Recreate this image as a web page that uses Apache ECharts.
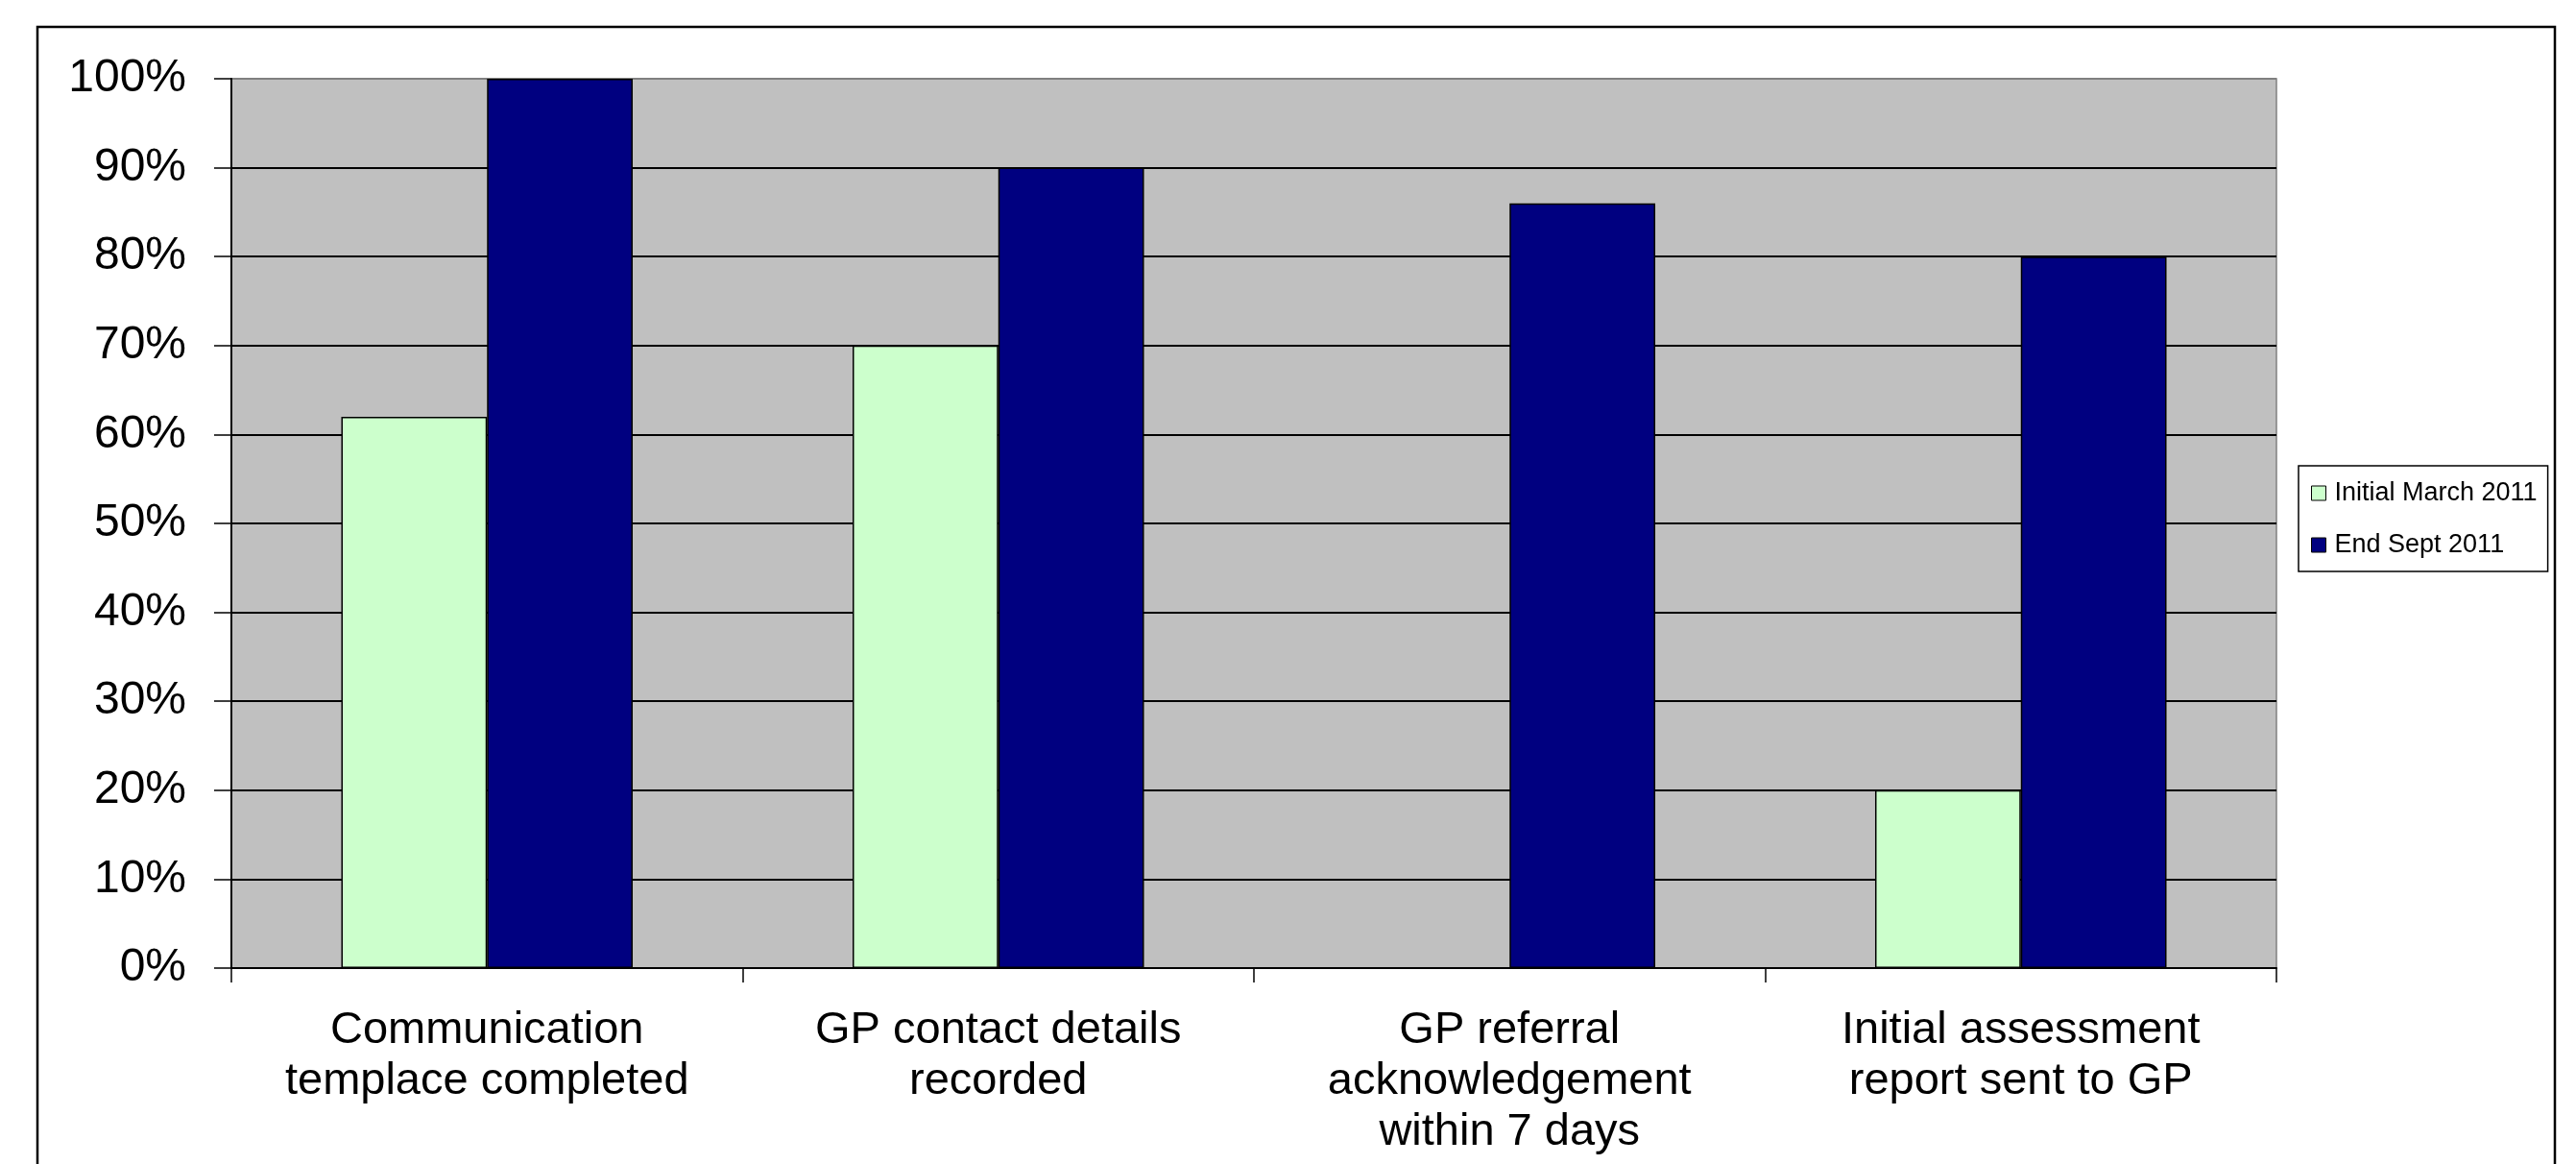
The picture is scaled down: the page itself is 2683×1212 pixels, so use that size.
<!DOCTYPE html>
<html>
<head>
<meta charset="utf-8">
<script src="https://cdn.jsdelivr.net/npm/echarts@6/dist/echarts.min.js"></script>
<style>
html,body{margin:0;padding:0;background:#fff;}
#chart{width:2683px;height:1212px;}
</style>
</head>
<body>
<div id="chart"></div>
<script>
const categories = [
  "Communication\ntemplace completed",
  "GP contact details\nrecorded",
  "GP referral\nacknowledgement\nwithin 7 days",
  "Initial assessment\nreport sent to GP"
];
const seriesNames = ["Initial March 2011", "End Sept 2011"];
const initialMarch = [62, 70, 0, 20];
const endSept = [100, 90, 86, 80];
const yTicks = [0, 10, 20, 30, 40, 50, 60, 70, 80, 90, 100];

const chart = echarts.init(document.getElementById('chart'), null, {renderer: 'canvas'});
const font = "'Liberation Sans', Arial, sans-serif";
const splitColors = yTicks.map((v, i) => i === yTicks.length - 1 ? '#808080' : '#000000');

chart.setOption({
  backgroundColor: '#ffffff',
  animation: false,
  graphic: [{
    type: 'rect',
    shape: {x: 39, y: 28, width: 2622, height: 1250},
    style: {fill: 'none', stroke: '#000', lineWidth: 2.5},
    silent: true, z: -1
  }],
  grid: {
    left: 241, top: 82, right: 312, bottom: 204,
    show: true, backgroundColor: '#c0c0c0', borderColor: '#808080', borderWidth: 1.5
  },
  legend: {
    orient: 'vertical',
    left: 2394, top: 485,
    data: seriesNames,
    icon: 'rect',
    itemWidth: 15, itemHeight: 15,
    itemGap: 27,
    padding: [15, 11, 14, 13],
    borderColor: '#000', borderWidth: 1.5,
    backgroundColor: '#fff',
    itemStyle: {borderColor: '#000', borderWidth: 1},
    textStyle: {fontFamily: font, fontSize: 27, color: '#000', lineHeight: 25, padding: [0, 0, 0, 4]}
  },
  xAxis: {
    type: 'category',
    data: categories,
    axisLine: {show: true, lineStyle: {color: '#000', width: 2}},
    axisTick: {show: true, length: 15, interval: 0, lineStyle: {color: '#000', width: 1.5}},
    axisLabel: {interval: 0, margin: 39, fontFamily: font, fontSize: 47, color: '#000', lineHeight: 53, align: 'center'},
    splitLine: {show: false}
  },
  yAxis: {
    type: 'value',
    min: 0, max: 100, interval: 10,
    axisLine: {show: true, lineStyle: {color: '#000', width: 2}},
    axisTick: {show: true, length: 18, lineStyle: {color: '#000', width: 1.5}},
    axisLabel: {margin: 47, fontFamily: font, fontSize: 48, color: '#000', formatter: v => v + '%'},
    splitLine: {show: true, lineStyle: {color: splitColors, width: 2}}
  },
  series: [
    {
      name: seriesNames[0], type: 'bar', data: initialMarch,
      barGap: '0%', barCategoryGap: '43%',
      itemStyle: {color: '#ccffcc', borderColor: '#000', borderWidth: 1.5}
    },
    {
      name: seriesNames[1], type: 'bar', data: endSept,
      barGap: '0%', barCategoryGap: '43%',
      itemStyle: {color: '#000080', borderColor: '#000', borderWidth: 1.5}
    }
  ]
});
</script>
</body>
</html>
